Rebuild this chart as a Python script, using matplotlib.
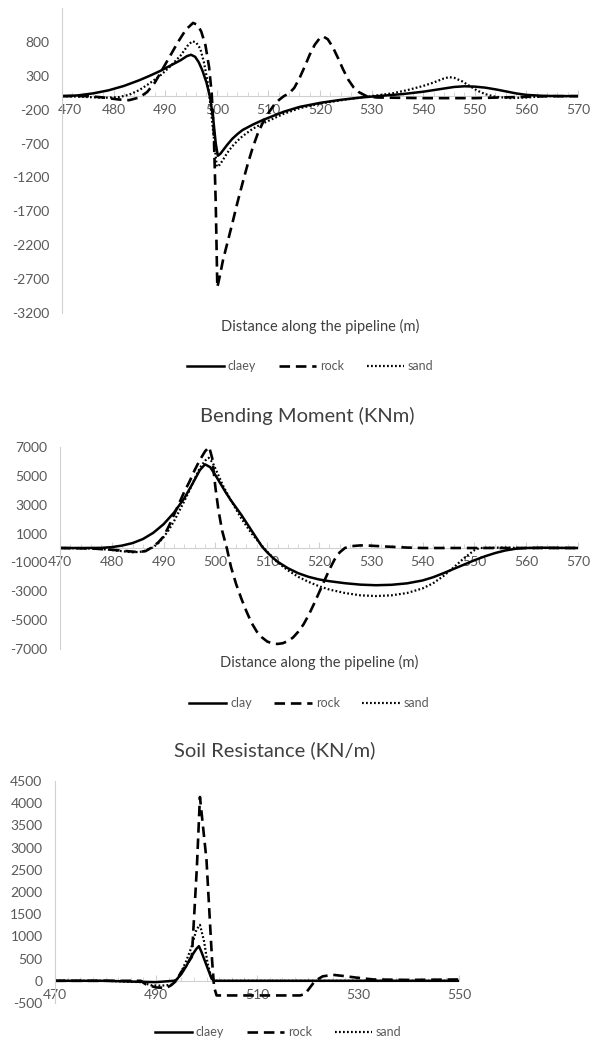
import matplotlib
matplotlib.use('Agg')
import matplotlib.pyplot as plt
import matplotlib.transforms as mtransforms
from matplotlib.ticker import MultipleLocator
import numpy as np

plt.rcParams['font.family'] = ['Lato', 'DejaVu Sans']
plt.rcParams['axes.unicode_minus'] = False

# %% data - panel 1 (shear force)
x1_clay = [470, 473, 476, 479, 482, 485, 487, 489, 491, 493, 494.2, 495, 495.8, 496.5, 497.2, 498, 498.7,
           499.3, 499.8, 500.2, 500.7, 501.3, 502, 503, 504, 505, 507, 509, 511, 513, 516, 520, 524, 528,
           532, 536, 540, 543, 546, 548, 550, 552, 554, 556, 558, 560, 563, 566, 570]
y1_clay = [0, 10, 40, 85, 150, 235, 300, 370, 450, 530, 590, 610, 580, 500, 380, 200, -20,
           -330, -700, -880, -850, -790, -720, -630, -560, -500, -420, -350, -290, -230, -160, -100, -55, -20,
           5, 30, 65, 100, 135, 145, 140, 125, 100, 70, 40, 18, 5, 0, 0]
x1_rock = [470, 475, 478, 481, 483, 485, 486.5, 488, 489.5, 491, 492.5, 494, 495.4, 496.3, 497, 497.8, 498.5,
           499, 499.4, 499.8, 500.1, 500.6, 501.2, 502, 503, 504, 505, 506, 507, 508, 509, 510, 511, 512,
           513, 514, 515, 516, 517, 518, 519, 520, 520.6, 521.5, 522.5, 523.5, 524.5, 525.5, 526.5, 527.5,
           529, 531, 540, 550, 560, 565, 570]
y1_rock = [0, 0, -20, -50, -60, -20, 60, 200, 400, 600, 800, 980, 1080, 1050, 950, 750, 430,
           50, -500, -1600, -2820, -2650, -2420, -2180, -1880, -1570, -1280, -1000, -750, -540, -380, -250, -140, -60,
           0, 40, 120, 260, 430, 610, 760, 860, 880, 840, 720, 560, 390, 240, 130, 60,
           0, -20, -30, -30, -10, 0, 0]
x1_sand = [470, 474, 478, 481, 483, 485, 487, 489, 491, 493, 494.5, 495.3, 496, 496.8, 497.5, 498.2, 498.8,
           499.4, 500, 500.6, 501.2, 502, 503, 504, 505, 507, 509, 511, 513, 516, 520, 525, 530, 534, 537,
           540, 542, 544, 545, 546, 547.5, 549, 550.5, 552, 554, 557, 560, 564, 570]
y1_sand = [0, -10, -25, -15, 20, 90, 190, 300, 440, 600, 760, 810, 790, 700, 500, 220, -150,
           -600, -1040, -1010, -940, -840, -740, -660, -590, -480, -400, -330, -260, -180, -110, -50, 0, 40, 90,
           150, 200, 260, 280, 270, 220, 150, 80, 30, -10, -30, -20, 0, 0]

# %% data - panel 2 (bending moment)
x2_clay = [470, 474, 478, 480, 482, 484, 486, 488, 490, 492, 494, 495.5, 497, 498, 499, 500, 501, 502, 503,
           505, 507, 508, 509, 510, 511, 512, 514, 516, 518, 520, 522, 525, 528, 531, 534, 537, 540, 542,
           544, 546, 548, 550, 552, 554, 556, 558, 560, 563, 566, 570]
y2_clay = [0, 0, 10, 60, 170, 340, 620, 1050, 1650, 2450, 3450, 4400, 5400, 5800, 5600, 5050, 4450, 3850, 3300,
           2300, 1200, 650, 100, -300, -650, -950, -1400, -1750, -2000, -2180, -2300, -2440, -2540, -2580, -2550,
           -2450, -2250, -2030, -1750, -1450, -1150, -850, -580, -350, -170, -50, 0, 20, 10, 0]
x2_rock = [470, 476, 480, 483, 485, 486.5, 488, 489, 490, 491, 492, 493, 494, 495, 496, 497, 498, 498.8,
           499.4, 500, 500.6, 501.3, 502.2, 503, 504, 505, 506, 507, 508, 509, 510, 511, 512, 513, 514, 515,
           516, 517, 518, 519, 520, 521, 522, 523, 524, 525, 526, 528, 530, 533, 537, 540, 570]
y2_rock = [0, -30, -120, -220, -280, -220, 100, 400, 800, 1500, 2300, 3100, 3900, 4600, 5400, 6100, 6700, 7000,
           6200, 4200, 2600, 1200, 0, -1300, -2500, -3500, -4400, -5200, -5800, -6200, -6480, -6620, -6650, -6600,
           -6450, -6200, -5800, -5300, -4650, -3900, -3100, -2300, -1500, -800, -300, 0, 120, 180, 160, 100, 30,
           0, 0]
x2_sand = [470, 476, 479, 482, 484, 486, 488, 489, 490, 491, 492, 493, 494, 495, 496, 497, 498, 498.7, 499.5,
           500.5, 501.5, 503, 505, 507, 509, 510, 512, 514, 516, 518, 520, 522, 525, 528, 531, 534, 537, 540,
           542, 544, 546, 548, 550, 551, 555, 560, 570]
y2_sand = [0, -30, -100, -220, -300, -250, 50, 350, 750, 1250, 1850, 2550, 3250, 4000, 4800, 5550, 6050, 6250,
           5900, 5100, 4300, 3300, 2050, 1000, 150, -250, -1000, -1550, -2000, -2350, -2650, -2880, -3120, -3280,
           -3330, -3280, -3120, -2800, -2450, -1950, -1350, -700, -150, 0, 30, 0, 0]

# %% data - panel 3 (soil resistance)
x3_clay = [470, 480, 486, 490, 493.5, 494, 495, 496, 497, 498, 498.5, 499, 500, 501, 501.5, 510, 530, 550]
y3_clay = [0, 0, -20, -30, 0, 20, 150, 330, 550, 720, 780, 650, 350, 50, 0, 0, 0, 0]
x3_rock = [470, 480, 487, 488, 490, 492, 493, 494, 495, 496, 497.1, 498.1, 498.7, 500, 501.1, 501.5, 502,
           510, 518.5, 519.5, 521.5, 523, 525, 527, 529.8, 533, 540, 550]
y3_rock = [0, 0, 0, -80, -150, -160, -100, 0, 200, 350, 540, 2570, 4140, 2720, 470, -140, -330,
           -330, -330, -300, 0, 100, 135, 110, 70, 30, 20, 30]
x3_sand = [470, 480, 487, 489, 491, 493, 494, 495, 496, 497, 498, 498.7, 499.5, 500.2, 501, 502, 520, 550]
y3_sand = [0, 0, -30, -100, -110, -90, 0, 200, 450, 750, 1150, 1260, 900, 400, 50, 0, 0, 0]

labels_1 = ['claey', 'rock', 'sand']
labels_2 = ['clay', 'rock', 'sand']
labels_3 = ['claey', 'rock', 'sand']

# %% figure
W, H = 595, 1044
fig = plt.figure(figsize=(W / 100, H / 100), dpi=100)

TICK = '#595959'
AX = '#D0D0D0'
styles = [dict(color='black', lw=1.8, ls='-'),
          dict(color='black', lw=1.9, ls=(0, (4, 2.2))),
          dict(color='black', lw=1.6, ls=(0, (0.8, 1.0)))]


def make_axes(left, right, top, bottom):
    return fig.add_axes([left / W, 1 - bottom / H, (right - left) / W, (bottom - top) / H])


def style_axes(ax, xlim, ylim, xstep, ystart, ystop, ystep, minor):
    ax.set_xlim(*xlim)
    ax.set_ylim(*ylim)
    ax.set_xticks(np.arange(xlim[0], xlim[1] + 0.1, xstep))
    ax.set_yticks(np.arange(ystart, ystop + 1, ystep))
    ax.xaxis.set_minor_locator(MultipleLocator(minor))
    for s in ['top', 'right']:
        ax.spines[s].set_visible(False)
    ax.spines['bottom'].set_position(('data', 0))
    ax.spines['bottom'].set_color(AX)
    ax.spines['left'].set_color(AX)
    ax.spines['bottom'].set_zorder(0)
    ax.tick_params(axis='x', which='both', direction='in', color=AX, labelcolor=TICK,
                   labelsize=10, pad=6)
    ax.tick_params(axis='x', which='major', length=4)
    ax.tick_params(axis='x', which='minor', length=3)
    ax.tick_params(axis='y', length=0, labelcolor=TICK, labelsize=10, pad=9)
    ax.patch.set_alpha(0)


def add_legend(ax, labels, cx, cy):
    ax.legend(labels, loc='center', bbox_to_anchor=(cx / W, 1 - cy / H),
              bbox_transform=fig.transFigure, ncol=3, frameon=False, fontsize=9,
              handlelength=3.0, columnspacing=1.8, handletextpad=0.3,
              labelcolor=TICK)


# panel 1
ax1 = make_axes(62, 578, 8, 313)
ax1.plot(x1_clay, y1_clay, **styles[0])
ax1.plot(x1_rock, y1_rock, **styles[1])
ax1.plot(x1_sand, y1_sand, **styles[2])
style_axes(ax1, (470, 570), (-3200, 1300), 10, -3200, 800, 500, 2)
# first x label sits a bit right of the axis, clear of the "-200" label
first = ax1.get_xticklabels()[0]
first.set_transform(first.get_transform() + mtransforms.ScaledTranslation(8 / 100, 0, fig.dpi_scale_trans))
fig.text(320 / W, 1 - 326 / H, 'Distance along the pipeline (m)', ha='center', va='center',
         fontsize=10.5, color='#404040')
add_legend(ax1, labels_1, 310, 366)

# panel 2
ax2 = make_axes(60, 578, 447, 649)
ax2.plot(x2_clay, y2_clay, **styles[0])
ax2.plot(x2_rock, y2_rock, **styles[1])
ax2.plot(x2_sand, y2_sand, **styles[2])
style_axes(ax2, (470, 570), (-7000, 7000), 10, -7000, 7000, 2000, 2)
fig.text(307 / W, 1 - 416 / H, 'Bending Moment (KNm)', ha='center', va='center',
         fontsize=14.5, color='#404040')
fig.text(319 / W, 1 - 662 / H, 'Distance along the pipeline (m)', ha='center', va='center',
         fontsize=10.5, color='#404040')
add_legend(ax2, labels_2, 309, 703)

# panel 3
ax3 = make_axes(55, 459, 781, 1003)
ax3.plot(x3_clay, y3_clay, **styles[0])
ax3.plot(x3_rock, y3_rock, **styles[1])
ax3.plot(x3_sand, y3_sand, **styles[2])
style_axes(ax3, (470, 550), (-500, 4500), 20, -500, 4500, 500, 2.5)
fig.text(275 / W, 1 - 750 / H, 'Soil Resistance (KN/m)', ha='center', va='center',
         fontsize=14.5, color='#404040')
add_legend(ax3, labels_3, 278, 1032)

fig.savefig('out.png', dpi=100)
